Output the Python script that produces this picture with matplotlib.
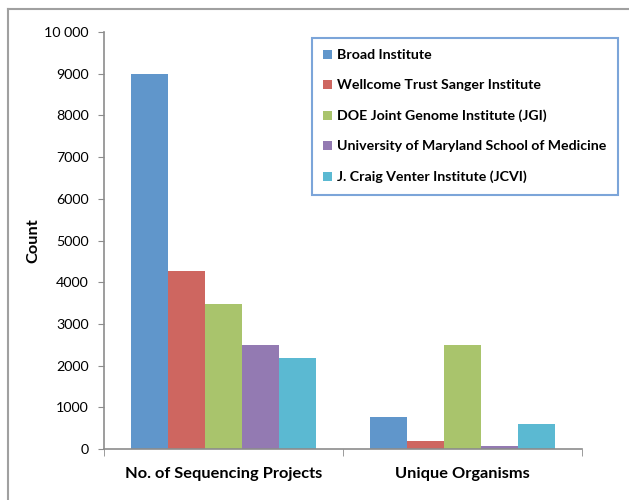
import matplotlib
matplotlib.use("Agg")
import matplotlib.pyplot as plt
import numpy as np
from matplotlib.lines import Line2D
from matplotlib.ticker import FuncFormatter

plt.rcParams['font.family'] = ['Lato', 'DejaVu Sans']

# data
categories = ["No. of Sequencing Projects", "Unique Organisms"]
institutes = ["Broad Institute", "Wellcome Trust Sanger Institute",
              "DOE Joint Genome Institute (JGI)",
              "University of Maryland School of Medicine",
              "J. Craig Venter Institute (JCVI)"]
projects = [9000, 4280, 3470, 2500, 2180]
organisms = [760, 190, 2500, 65, 600]
colors = ["#6096CB", "#CE6660", "#A9C46C", "#937AB2", "#5BB9D2"]

W, H = 629, 500
fig = plt.figure(figsize=(W / 100, H / 100), dpi=100)
ax = fig.add_axes([104 / W, 1 - 449 / H, (582 - 104) / W, (449 - 32) / H])

# outer chart border (left and top visible)
fig.add_artist(Line2D([8 / W, 8 / W], [0, 1 - 8.5 / H], color="#A0A0A0", lw=1.5))
fig.add_artist(Line2D([8 / W, 1], [1 - 8.5 / H, 1 - 8.5 / H], color="#A0A0A0", lw=1.5))

x = np.arange(len(categories))
n = len(institutes)
bw = 0.774 / n
for i, name in enumerate(institutes):
    vals = [projects[i], organisms[i]]
    ax.bar(x - 0.387 + bw * (i + 0.5), vals, width=bw, color=colors[i], label=name)

ax.set_xlim(-0.5, 1.5)
ax.set_ylim(0, 10000)
ax.set_yticks(np.arange(0, 10001, 1000))
ax.yaxis.set_major_formatter(FuncFormatter(
    lambda v, p: "10 000" if v >= 10000 else f"{int(v)}"))

ax.set_xticks(x)
ax.set_xticklabels(categories, fontsize=11.8, fontweight="bold")
ax.set_xticks([-0.5, 0.5, 1.5], minor=True)
ax.tick_params(axis="x", which="major", length=0, pad=13)
ax.tick_params(axis="x", which="minor", length=5, color="#8C8C8C", direction="out")
ax.tick_params(axis="y", length=4, color="#8C8C8C", labelsize=10.3, pad=7)

for s in ["top", "right"]:
    ax.spines[s].set_visible(False)
for s in ["left", "bottom"]:
    ax.spines[s].set_color("#8C8C8C")
    ax.spines[s].set_linewidth(1.2)

ax.set_ylabel("Count", fontsize=11.8, fontweight="bold")
ax.yaxis.set_label_coords((40 - 104) / (582 - 104), 0.5)

leg = fig.legend(loc="upper right", bbox_to_anchor=(618 / W, 1 - 38 / H),
                 fontsize=10.2, frameon=True, fancybox=False,
                 handlelength=0.6, handleheight=0.6, handletextpad=0.4,
                 labelspacing=1.28, borderpad=0.8, borderaxespad=0)
leg.get_frame().set_edgecolor("#5B8FD0")
leg.get_frame().set_linewidth(1.5)
for t in leg.get_texts():
    t.set_fontweight("bold")

fig.savefig("out.png", dpi=100)
